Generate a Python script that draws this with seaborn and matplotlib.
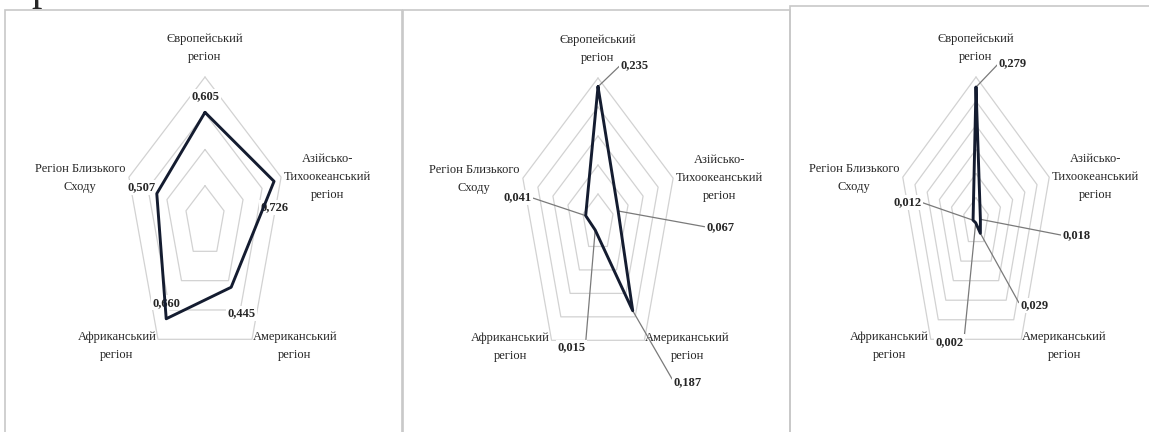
import numpy as np
import pandas as pd
import matplotlib.pyplot as plt
import seaborn as sns
from matplotlib.patches import Rectangle

# Chart data
categories = ['Європейський\nрегіон', 'Азійсько-\nТихоокеанський\nрегіон',
              'Американський\nрегіон', 'Африканський\nрегіон',
              'Регіон Близького\nСходу']
values_1 = [0.605, 0.726, 0.445, 0.660, 0.507]
values_2 = [0.235, 0.067, 0.187, 0.015, 0.041]
values_3 = [0.279, 0.018, 0.029, 0.002, 0.012]
rings_1 = [0.2, 0.4, 0.6, 0.8]
rings_2 = [0.05, 0.10, 0.15, 0.20, 0.25]
rings_3 = [0.05, 0.10, 0.15, 0.20, 0.25, 0.30]

sns.set_style('white')
plt.rcParams['font.family'] = ['Liberation Serif', 'DejaVu Serif']

W, H = 1149, 432
fig = plt.figure(figsize=(W / 100, H / 100), dpi=100)

# panel frames (pixels: left, top, right)
for left, top, right in [(5, 10, 402), (403, 9.5, 790), (790, 6, 1160)]:
    fig.add_artist(Rectangle((left / W, -0.05), (right - left) / W, (H - top) / H + 0.05,
                             transform=fig.transFigure, fill=False,
                             ec='#c8c8c8', lw=1.2))

# cut-off caption letter at the very top
fig.text(31 / W, 1.0, 'р', fontsize=30, va='baseline', ha='left')

# label offsets in pixels (dx right, dy down) from outer vertex / point
cat_offsets = [(0, -29), (46, 0), (43, 7), (-41, 7), (-49, 1)]
near_offsets = [(0, -16), (0, 26), (10, 26), (0, -16), (-15, -6)]
leader_offsets_2 = [(37, -22), (102, 16), (55, 71), (-24, 117), (-68, -18)]
leader_offsets_3 = [(37, -24), (96, 16), (54, 72), (-26, 119), (-66, -18)]

theta = np.linspace(0, 2 * np.pi, len(categories), endpoint=False)
closed = np.append(theta, theta[0])


def radar(cx, cy, rh, rv, values, rings, offsets, leaders):
    ax = fig.add_axes([(cx - rh) / W, (H - cy - rv) / H, 2 * rh / W, 2 * rv / H],
                      projection='polar')
    ax.set_aspect('auto')
    ax.set_theta_zero_location('N')
    ax.set_theta_direction(-1)
    ax.set_ylim(0, rings[-1])
    ax.set_axis_off()

    for lvl in rings:
        ax.plot(closed, [lvl] * len(closed), color='#d2d2d2', lw=0.9,
                zorder=1, clip_on=False)

    df = pd.DataFrame({'theta': closed, 'value': values + values[:1]})
    sns.lineplot(data=df, x='theta', y='value', sort=False, estimator=None,
                 ax=ax, color='#141c30', lw=2.1, zorder=4, clip_on=False)

    for th, cat, (dx, dy) in zip(theta, categories, cat_offsets):
        ax.annotate(cat, xy=(th, rings[-1]), xytext=(dx, -dy),
                    textcoords='offset pixels', ha='center', va='center',
                    fontsize=9, linespacing=1.7, zorder=3)

    for th, v, (dx, dy) in zip(theta, values, offsets):
        kw = {}
        if leaders:
            kw['arrowprops'] = dict(arrowstyle='-', color='#7a7a7a', lw=0.9,
                                    shrinkA=0, shrinkB=0,
                                    relpos=(0, 0.5) if dx > 0 else (1, 0.5))
        ax.annotate(f'{v:.3f}'.replace('.', ','), xy=(th, v), xytext=(dx, -dy),
                    textcoords='offset pixels', ha='center', va='center',
                    fontsize=9, fontweight='bold', zorder=3,
                    bbox=dict(boxstyle='square,pad=0.12', fc='white', ec='none'),
                    **kw)


radar(205, 222, 80, 145, values_1, rings_1, near_offsets, False)
radar(598, 223, 79, 145, values_2, rings_2, leader_offsets_2, True)
radar(976, 222, 77, 145, values_3, rings_3, leader_offsets_3, True)

fig.savefig('out.png', dpi=100)
